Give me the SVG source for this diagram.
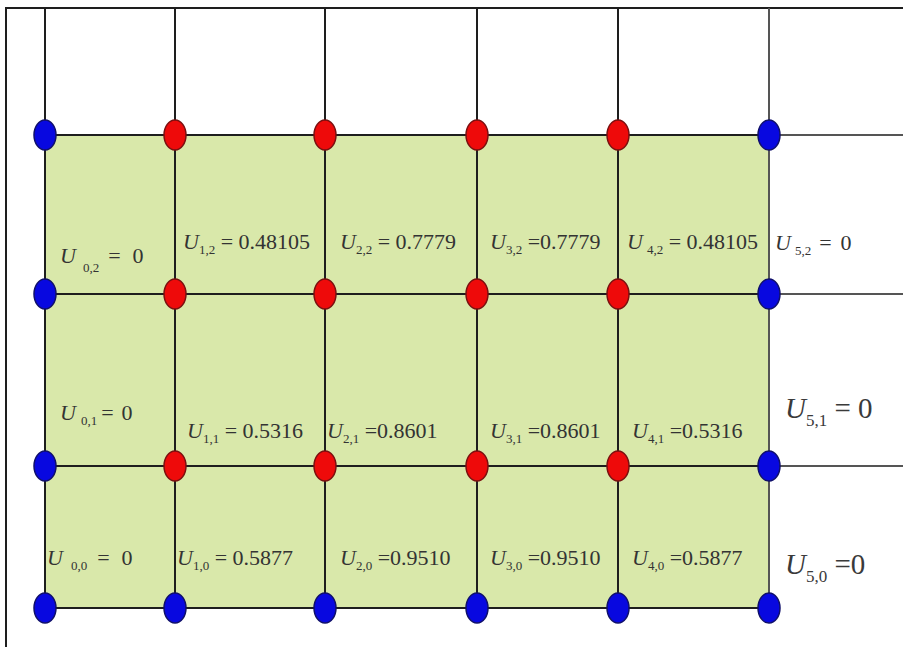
<svg xmlns="http://www.w3.org/2000/svg" width="903" height="647" viewBox="0 0 903 647">
<style>
.grid{stroke:#1e1e1e;stroke-width:2;fill:none}
.gridr{stroke:#555;stroke-width:2;fill:none}
.blue{fill:#0808e0;stroke:#10106a;stroke-width:1.5}
.red{fill:#ee0a0a;stroke:#7a1010;stroke-width:1.5}
.lbl{font-family:"Liberation Serif","Times New Roman",serif;font-size:22px;fill:#333}
.big{font-size:29px;fill:#3a3a3a}
.u{font-style:italic}
.s{font-size:13px}
.sb{font-size:17px}
</style>
<rect x="0" y="0" width="903" height="647" fill="#fff"/>
<g id="frame" class="grid" stroke-width="1.5"><path d="M6,647 V8 H903"/></g>
<rect id="field" x="45" y="135" width="724" height="473" fill="#d9e8aa"/>
<g id="connectors">
<g class="grid">
<path d="M45,8 V608 M175,8 V608 M325,8 V608 M477,8 V608 M618,8 V608"/>
<path d="M45,135 H769 M45,294 H769 M45,466 H769 M45,608 H769"/>
</g>
<g class="gridr">
<path d="M769,8 V608"/>
<path d="M769,135 H903 M769,294 H903 M769,466 H903"/>
</g>
</g>
<g id="nodes">
<g id="n00"><ellipse class="blue" cx="45" cy="608" rx="11" ry="15"/></g>
<g id="n10"><ellipse class="blue" cx="175" cy="608" rx="11" ry="15"/></g>
<g id="n20"><ellipse class="blue" cx="325" cy="608" rx="11" ry="15"/></g>
<g id="n30"><ellipse class="blue" cx="477" cy="608" rx="11" ry="15"/></g>
<g id="n40"><ellipse class="blue" cx="618" cy="608" rx="11" ry="15"/></g>
<g id="n50"><ellipse class="blue" cx="769" cy="608" rx="11" ry="15"/></g>
<g id="n01"><ellipse class="blue" cx="45" cy="466" rx="11" ry="15"/></g>
<g id="n11"><ellipse class="red" cx="175" cy="466" rx="11" ry="15"/></g>
<g id="n21"><ellipse class="red" cx="325" cy="466" rx="11" ry="15"/></g>
<g id="n31"><ellipse class="red" cx="477" cy="466" rx="11" ry="15"/></g>
<g id="n41"><ellipse class="red" cx="618" cy="466" rx="11" ry="15"/></g>
<g id="n51"><ellipse class="blue" cx="769" cy="466" rx="11" ry="15"/></g>
<g id="n02"><ellipse class="blue" cx="45" cy="294" rx="11" ry="15"/></g>
<g id="n12"><ellipse class="red" cx="175" cy="294" rx="11" ry="15"/></g>
<g id="n22"><ellipse class="red" cx="325" cy="294" rx="11" ry="15"/></g>
<g id="n32"><ellipse class="red" cx="477" cy="294" rx="11" ry="15"/></g>
<g id="n42"><ellipse class="red" cx="618" cy="294" rx="11" ry="15"/></g>
<g id="n52"><ellipse class="blue" cx="769" cy="294" rx="11" ry="15"/></g>
<g id="n03"><ellipse class="blue" cx="45" cy="135" rx="11" ry="15"/></g>
<g id="n13"><ellipse class="red" cx="175" cy="135" rx="11" ry="15"/></g>
<g id="n23"><ellipse class="red" cx="325" cy="135" rx="11" ry="15"/></g>
<g id="n33"><ellipse class="red" cx="477" cy="135" rx="11" ry="15"/></g>
<g id="n43"><ellipse class="red" cx="618" cy="135" rx="11" ry="15"/></g>
<g id="n53"><ellipse class="blue" cx="769" cy="135" rx="11" ry="15"/></g>
</g>
<g id="labels" class="lbl">
<text x="60" y="263"><tspan class="u">U</tspan><tspan class="s" dx="7" dy="9">0,2</tspan><tspan dx="9" dy="-9">=</tspan><tspan dx="12">0</tspan></text>
<text x="183" y="249"><tspan class="u">U</tspan><tspan class="s" dy="5">1,2</tspan><tspan dy="-5"> = 0.48105</tspan></text>
<text x="340" y="249"><tspan class="u">U</tspan><tspan class="s" dy="5">2,2</tspan><tspan dy="-5"> = 0.7779</tspan></text>
<text x="490" y="249"><tspan class="u">U</tspan><tspan class="s" dy="5">3,2</tspan><tspan dy="-5"> =0.7779</tspan></text>
<text x="627" y="249"><tspan class="u">U</tspan><tspan class="s" dx="4" dy="5">4,2</tspan><tspan dy="-5"> = 0.48105</tspan></text>
<text x="775" y="250"><tspan class="u">U</tspan><tspan class="s" dx="4" dy="5">5,2</tspan><tspan dx="8" dy="-5">=</tspan><tspan dx="9">0</tspan></text>

<text x="60" y="420"><tspan class="u">U</tspan><tspan class="s" dx="5" dy="5">0,1</tspan><tspan dx="4" dy="-5">=</tspan><tspan dx="8">0</tspan></text>
<text x="187" y="438"><tspan class="u">U</tspan><tspan class="s" dy="5">1,1</tspan><tspan dy="-5"> = 0.5316</tspan></text>
<text x="327" y="438"><tspan class="u">U</tspan><tspan class="s" dy="5">2,1</tspan><tspan dy="-5"> =0.8601</tspan></text>
<text x="490" y="438"><tspan class="u">U</tspan><tspan class="s" dy="5">3,1</tspan><tspan dy="-5"> =0.8601</tspan></text>
<text x="632" y="438"><tspan class="u">U</tspan><tspan class="s" dy="5">4,1</tspan><tspan dy="-5"> =0.5316</tspan></text>
<text x="785" y="418" class="big"><tspan class="u">U</tspan><tspan class="sb" dy="8">5,1</tspan><tspan dy="-8"> = 0</tspan></text>

<text x="47" y="565"><tspan class="u">U</tspan><tspan class="s" dx="8" dy="5">0,0</tspan><tspan dx="10" dy="-5">=</tspan><tspan dx="12">0</tspan></text>
<text x="177" y="565"><tspan class="u">U</tspan><tspan class="s" dy="5">1,0</tspan><tspan dy="-5"> = 0.5877</tspan></text>
<text x="340" y="565"><tspan class="u">U</tspan><tspan class="s" dy="5">2,0</tspan><tspan dy="-5"> =0.9510</tspan></text>
<text x="490" y="565"><tspan class="u">U</tspan><tspan class="s" dy="5">3,0</tspan><tspan dy="-5"> =0.9510</tspan></text>
<text x="632" y="565"><tspan class="u">U</tspan><tspan class="s" dy="5">4,0</tspan><tspan dy="-5"> =0.5877</tspan></text>
<text x="785" y="574" class="big"><tspan class="u">U</tspan><tspan class="sb" dy="8">5,0</tspan><tspan dy="-8"> =0</tspan></text>
</g>
</svg>
